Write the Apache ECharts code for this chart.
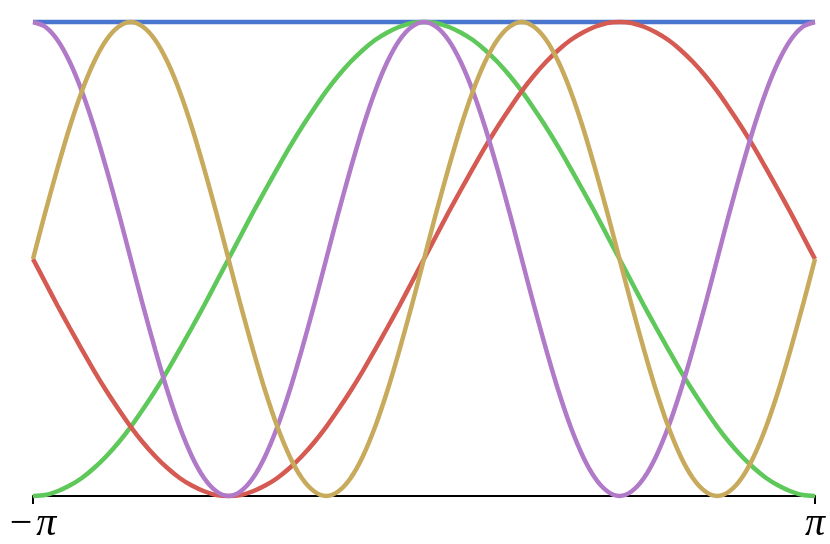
<!DOCTYPE html>
<html>
<head>
<meta charset="utf-8">
<script src="https://cdn.jsdelivr.net/npm/echarts@6/dist/echarts.min.js"></script>
<style>html,body{margin:0;padding:0;background:#fff;}#c{width:830px;height:544px;}</style>
</head>
<body>
<div id="c"></div>
<script>
// x positions in units of pi/32 (from -pi to pi)
const xs = [-32,-31,-30,-29,-28,-27,-26,-25,-24,-23,-22,-21,-20,-19,-18,-17,-16,-15,-14,-13,-12,-11,-10,-9,-8,-7,-6,-5,-4,-3,-2,-1,0,1,2,3,4,5,6,7,8,9,10,11,12,13,14,15,16,17,18,19,20,21,22,23,24,25,26,27,28,29,30,31,32];
const tickValues = [-32, 32];
const blueX = [-32, 32];
const blueY = [1, 1];
const greenY = [0,0.002,0.010,0.022,0.038,0.059,0.084,0.113,0.146,0.183,0.222,0.264,0.309,0.355,0.402,0.451,0.5,0.549,0.598,0.645,0.691,0.736,0.778,0.817,0.854,0.887,0.916,0.941,0.962,0.978,0.990,0.998,1,0.998,0.990,0.978,0.962,0.941,0.916,0.887,0.854,0.817,0.778,0.736,0.691,0.645,0.598,0.549,0.5,0.451,0.402,0.355,0.309,0.264,0.222,0.183,0.146,0.113,0.084,0.059,0.038,0.022,0.010,0.002,0];
const redY = [0.5,0.451,0.402,0.355,0.309,0.264,0.222,0.183,0.146,0.113,0.084,0.059,0.038,0.022,0.010,0.002,0,0.002,0.010,0.022,0.038,0.059,0.084,0.113,0.146,0.183,0.222,0.264,0.309,0.355,0.402,0.451,0.5,0.549,0.598,0.645,0.691,0.736,0.778,0.817,0.854,0.887,0.916,0.941,0.962,0.978,0.990,0.998,1,0.998,0.990,0.978,0.962,0.941,0.916,0.887,0.854,0.817,0.778,0.736,0.691,0.645,0.598,0.549,0.5];
const purpleY = [1,0.990,0.962,0.916,0.854,0.778,0.691,0.598,0.5,0.402,0.309,0.222,0.146,0.084,0.038,0.010,0,0.010,0.038,0.084,0.146,0.222,0.309,0.402,0.5,0.598,0.691,0.778,0.854,0.916,0.962,0.990,1,0.990,0.962,0.916,0.854,0.778,0.691,0.598,0.5,0.402,0.309,0.222,0.146,0.084,0.038,0.010,0,0.010,0.038,0.084,0.146,0.222,0.309,0.402,0.5,0.598,0.691,0.778,0.854,0.916,0.962,0.990,1];
const goldY = [0.5,0.598,0.691,0.778,0.854,0.916,0.962,0.990,1,0.990,0.962,0.916,0.854,0.778,0.691,0.598,0.5,0.402,0.309,0.222,0.146,0.084,0.038,0.010,0,0.010,0.038,0.084,0.146,0.222,0.309,0.402,0.5,0.598,0.691,0.778,0.854,0.916,0.962,0.990,1,0.990,0.962,0.916,0.854,0.778,0.691,0.598,0.5,0.402,0.309,0.222,0.146,0.084,0.038,0.010,0,0.010,0.038,0.084,0.146,0.222,0.309,0.402,0.5];

const pair = (xa, ya) => xa.map((x, i) => [x, ya[i]]);
function line(name, data, color) {
  return {name, type: 'line', data, smooth: 0.3, symbol: 'none', clip: false,
    lineStyle: {color, width: 4.5}, emphasis: {disabled: true}};
}
const chart = echarts.init(document.getElementById('c'));
chart.setOption({
  animation: false,
  backgroundColor: '#fff',
  grid: {left: 33, right: 15, top: 22, bottom: 47},
  xAxis: {
    type: 'value', min: -32, max: 32,
    axisLine: {lineStyle: {color: '#000', width: 2}},
    axisTick: {show: true, customValues: tickValues, length: 8, lineStyle: {color: '#000', width: 2}},
    splitLine: {show: false},
    axisLabel: {
      customValues: tickValues, margin: 8, showMinLabel: true, showMaxLabel: true,
      formatter: v => v < 0 ? '{m|−}{p|π}' : '{p|π}',
      rich: {
        m: {fontFamily: 'Liberation Serif', fontSize: 40, color: '#000', padding: [0, 4, 0, 0]},
        p: {fontFamily: 'Liberation Serif', fontStyle: 'italic', fontSize: 40, color: '#000'}
      }
    }
  },
  yAxis: {type: 'value', min: 0, max: 1, show: false},
  series: [
    line('blue', pair(blueX, blueY), '#4a76d0'),
    line('green', pair(xs, greenY), '#5ec85a'),
    line('red', pair(xs, redY), '#d45a52'),
    line('purple', pair(xs, purpleY), '#b07ac8'),
    line('gold', pair(xs, goldY), '#c8aa5c')
  ]
});
</script>
</body>
</html>
